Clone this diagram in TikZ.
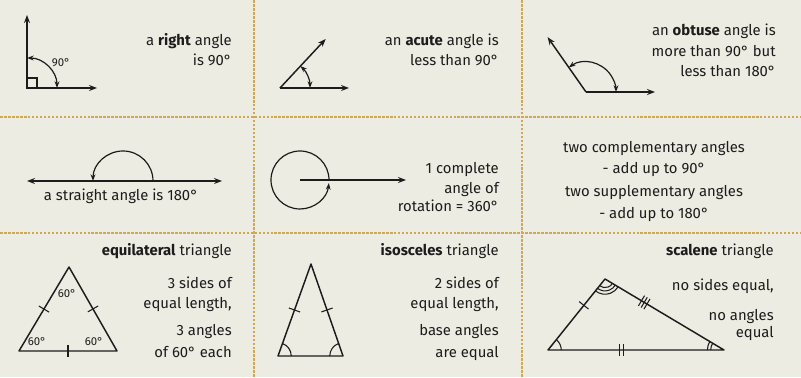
\documentclass[tikz,border=0pt]{standalone}
\usepackage{fontspec}
\setmainfont{Fira Sans}
\usetikzlibrary{arrows.meta,calc,angles,decorations.markings}
\definecolor{pagebg}{RGB}{237,236,226}
\definecolor{divider}{RGB}{208,168,84}
\definecolor{ink}{RGB}{28,28,28}
\tikzset{
  bigtip/.tip={Stealth[length=6pt,width=4.5pt]},
  smalltip/.tip={Stealth[length=5pt,width=3.6pt]},
  ray/.style={ink,line width=1.1pt,-bigtip},
  sweep/.style={ink,line width=0.9pt,smalltip-smalltip},
  side/.style={ink,line width=1.1pt,line join=round},
  txt/.style={font=\fontsize{11.2}{13}\selectfont,text=ink,inner sep=0pt,text height=8pt,text depth=2.3pt},
  rtxt/.style={txt,anchor=east},
  small/.style={font=\fontsize{8.6}{9}\selectfont,text=ink,inner sep=0pt},
  divline/.style={divider,line width=0.8pt,dash pattern=on 2pt off 1pt},
  ticks/.style n args={2}{postaction={decorate,decoration={markings,
    mark=at position #1 with {\foreach \s in {#2}{\draw[ink,line width=0.8pt] (\s pt,-4.5pt) -- (\s pt,4.5pt);}}}}},
  corner/.style={draw=ink,line width=0.8pt,angle radius=#1}
}

\begin{document}
\begin{tikzpicture}[x=0.0265cm,y=0.0265cm]
\fill[pagebg] (0,0) rectangle (801,377);
\useasboundingbox (0,0) rectangle (801,377);
\draw[divline] (0,260) -- (801,260);
\draw[divline] (0,144) -- (801,144);
\draw[divline] (254,0) -- (254,377);
\draw[divline] (522,0) -- (522,377);

% right angle
\coordinate (o1) at (27,289);
\coordinate (up1) at (27,362);
\coordinate (rt1) at (97,289);
\draw[ray] (o1) -- (up1);
\draw[ray] (o1) -- (rt1);
\draw[ink,line width=0.8pt] (o1) rectangle ++(10,10);
\draw[sweep] ([shift={(90:30)}]o1) arc[start angle=90,end angle=0,radius=30];
\node[small] (deg1) at (61,314) {90°};
\node[rtxt] (right1) at (232,335) {a \textbf{right} angle};
\node[rtxt] (right2) at (232,315) {is 90°};

% acute
\coordinate (o2) at (280,289);
\coordinate (rt2) at (349,289);
\coordinate (sl2) at ($(o2)+(47:67)$);
\draw[ray] (o2) -- (sl2);
\draw[ray] (o2) -- (rt2);
\draw[sweep] ([shift={(47:30)}]o2) arc[start angle=47,end angle=0,radius=30];
\node[rtxt] (acute1) at (499,335) {an \textbf{acute} angle is};
\node[rtxt] (acute2) at (499,315) {less than 90°};

% obtuse
\coordinate (o3) at (586,285);
\coordinate (rt3) at (655,285);
\coordinate (sl3) at ($(o3)+(125:67)$);
\draw[ray] (o3) -- (sl3);
\draw[ray] (o3) -- (rt3);
\draw[sweep] ([shift={(125:30)}]o3) arc[start angle=125,end angle=0,radius=30];
\node[rtxt] (obtuse1) at (776,345) {an \textbf{obtuse} angle is};
\node[rtxt] (obtuse2) at (776,324) {more than 90° but};
\node[rtxt] (obtuse3) at (776,304) {less than 180°};

% straight angle
\coordinate (lf4) at (27,196);
\coordinate (rt4) at (222,196);
\coordinate (c4) at (123,196);
\draw[ink,line width=1.1pt,bigtip-bigtip] (lf4) -- (rt4);
\draw[ink,line width=0.9pt,-smalltip] ([shift={(0:30)}]c4) arc[start angle=0,end angle=180,radius=30];
\node[txt] (straight) at (121,180) {a straight angle is 180°};

% full turn
\coordinate (c5) at (300,197);
\coordinate (rt5) at (406,197);
\draw[ink,line width=0.9pt,-smalltip] ([shift={(0:29)}]c5) arc[start angle=0,end angle=354,radius=29];
\draw[ray] (c5) -- (rt5);
\node[rtxt] (turn1) at (499,207) {1 complete};
\node[rtxt] (turn2) at (499,187) {angle of};
\node[rtxt] (turn3) at (499,169) {rotation = 360°};

% complementary, supplementary
\node[txt] (pair1) at (654,228) {two complementary angles};
\node[txt] (pair2) at (654,207) {- add up to 90°};
\node[txt] (pair3) at (654,184) {two supplementary angles};
\node[txt] (pair4) at (654,162) {- add up to 180°};

% equilateral
\coordinate (t7) at (69,110);
\coordinate (l7) at (19,26);
\coordinate (r7) at (117,26);
\draw[side] (l7) -- (t7) -- (r7) -- cycle;
\path[ticks={0.5}{0}] (l7) -- (t7);
\path[ticks={0.5}{0}] (t7) -- (r7);
\path[ticks={0.5}{0}] (l7) -- (r7);
\node[small] (eqA) at (67,83) {60°};
\node[small] (eqB) at (37,35) {60°};
\node[small] (eqC) at (94,35) {60°};
\node[rtxt] (equi1) at (232,125) {\textbf{equilateral} triangle};
\node[rtxt] (equi2) at (232,92) {3 sides of};
\node[rtxt] (equi3) at (232,72) {equal length,};
\node[rtxt] (equi4) at (232,45) {3 angles};
\node[rtxt] (equi5) at (232,23) {of 60° each};

% isosceles
\coordinate (t8) at (311,113);
\coordinate (l8) at (278,21);
\coordinate (r8) at (343,21);
\draw[side] (l8) -- (t8) -- (r8) -- cycle;
\path[ticks={0.5}{0}] (l8) -- (t8);
\path[ticks={0.5}{0}] (t8) -- (r8);
\pic[corner=10pt] {angle=r8--l8--t8};
\pic[corner=10pt] {angle=t8--r8--l8};
\node[rtxt] (isos1) at (499,125) {\textbf{isosceles} triangle};
\node[rtxt] (isos2) at (499,92) {2 sides of};
\node[rtxt] (isos3) at (499,72) {equal length,};
\node[rtxt] (isos4) at (499,45) {base angles};
\node[rtxt] (isos5) at (499,23) {are equal};

% scalene
\coordinate (t9) at (605,98);
\coordinate (l9) at (548,27);
\coordinate (r9) at (724,27);
\draw[side] (l9) -- (t9) -- (r9) -- cycle;
\path[ticks={0.63}{0}] (l9) -- (t9);
\path[ticks={0.33}{-2.4,0,2.4}] (t9) -- (r9);
\path[ticks={0.42}{-1.5,1.5}] (l9) -- (r9);
\pic[corner=10pt] {angle=r9--l9--t9};
\pic[corner=10pt] {angle=t9--r9--l9};
\pic[corner=12.5pt] {angle=t9--r9--l9};
\pic[corner=6.5pt] {angle=l9--t9--r9};
\pic[corner=9pt] {angle=l9--t9--r9};
\pic[corner=11.5pt] {angle=l9--t9--r9};
\node[rtxt] (scal1) at (774,125) {\textbf{scalene} triangle};
\node[rtxt] (scal2) at (774,90) {no sides equal,};
\node[rtxt] (scal3) at (774,60) {no angles};
\node[rtxt] (scal4) at (774,43) {equal};
\end{tikzpicture}
\end{document}
